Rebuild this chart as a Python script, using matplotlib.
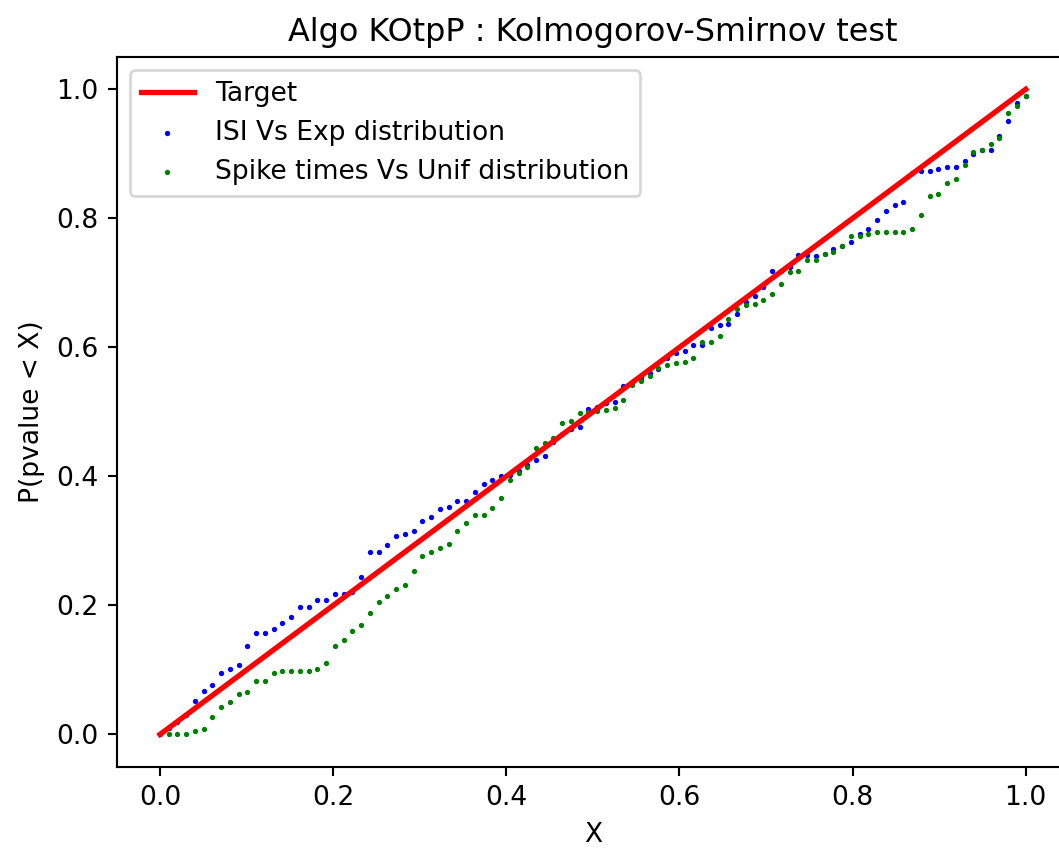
import numpy as np
import matplotlib
matplotlib.use("Agg")
import matplotlib.pyplot as plt

# ---- data ----
n_points = 100
x_vals = np.linspace(0, 1, n_points)

target_x = [0.0, 1.0]
target_y = [0.0, 1.0]

isi_exp = [
    0.000, 0.010, 0.020, 0.030, 0.052, 0.068, 0.077, 0.096, 0.101, 0.107,
    0.137, 0.158, 0.158, 0.164, 0.173, 0.182, 0.197, 0.197, 0.208, 0.208,
    0.218, 0.218, 0.221, 0.244, 0.283, 0.283, 0.293, 0.307, 0.310, 0.316,
    0.331, 0.337, 0.349, 0.352, 0.362, 0.362, 0.376, 0.388, 0.394, 0.400,
    0.402, 0.408, 0.418, 0.426, 0.432, 0.453, 0.466, 0.474, 0.477, 0.504,
    0.507, 0.513, 0.516, 0.540, 0.545, 0.552, 0.560, 0.566, 0.583, 0.591,
    0.594, 0.603, 0.603, 0.630, 0.635, 0.636, 0.652, 0.671, 0.680, 0.694,
    0.718, 0.718, 0.725, 0.743, 0.743, 0.742, 0.745, 0.752, 0.757, 0.763,
    0.775, 0.784, 0.798, 0.811, 0.820, 0.825, 0.870, 0.873, 0.873, 0.876,
    0.880, 0.880, 0.889, 0.900, 0.906, 0.906, 0.927, 0.951, 0.978, 0.989,
]

spike_unif = [
    0.000, 0.000, 0.000, 0.000, 0.006, 0.009, 0.027, 0.042, 0.051, 0.062,
    0.066, 0.083, 0.083, 0.096, 0.098, 0.098, 0.098, 0.098, 0.101, 0.110,
    0.137, 0.146, 0.160, 0.170, 0.188, 0.206, 0.214, 0.226, 0.232, 0.253,
    0.277, 0.283, 0.289, 0.295, 0.316, 0.328, 0.340, 0.340, 0.351, 0.367,
    0.394, 0.405, 0.414, 0.444, 0.451, 0.459, 0.483, 0.486, 0.498, 0.500,
    0.501, 0.503, 0.506, 0.519, 0.542, 0.548, 0.555, 0.568, 0.573, 0.575,
    0.578, 0.584, 0.608, 0.608, 0.617, 0.644, 0.659, 0.665, 0.667, 0.674,
    0.683, 0.698, 0.716, 0.718, 0.736, 0.736, 0.745, 0.748, 0.757, 0.772,
    0.772, 0.775, 0.778, 0.778, 0.778, 0.778, 0.784, 0.805, 0.835, 0.838,
    0.855, 0.861, 0.882, 0.903, 0.906, 0.915, 0.924, 0.963, 0.974, 0.989,
]

title = "Algo KOtpP : Kolmogorov-Smirnov test"
xlabel = "X"
ylabel = "P(pvalue < X)"

# ---- figure ----
DPI = 191
W, H = 1059, 848
fig = plt.figure(figsize=(W / DPI, H / DPI), dpi=DPI)
ax = fig.add_axes([116.7 / W, (H - 766.7) / H, 952.3 / W, 709.7 / H])

ax.plot(target_x, target_y, color="red", lw=2, label="Target", zorder=3)
ax.scatter(x_vals, isi_exp, s=1, color="blue", label="ISI Vs Exp distribution", zorder=2)
ax.scatter(x_vals, spike_unif, s=1, color="green", label="Spike times Vs Unif distribution", zorder=2)

ax.set_xlim(-0.05, 1.05)
ax.set_ylim(-0.05, 1.05)
ax.set_xticks([0.0, 0.2, 0.4, 0.6, 0.8, 1.0])
ax.set_yticks([0.0, 0.2, 0.4, 0.6, 0.8, 1.0])
ax.set_title(title)
ax.set_xlabel(xlabel)
ax.set_ylabel(ylabel)
ax.legend(loc="upper left")

fig.savefig("out.png", dpi=DPI)
